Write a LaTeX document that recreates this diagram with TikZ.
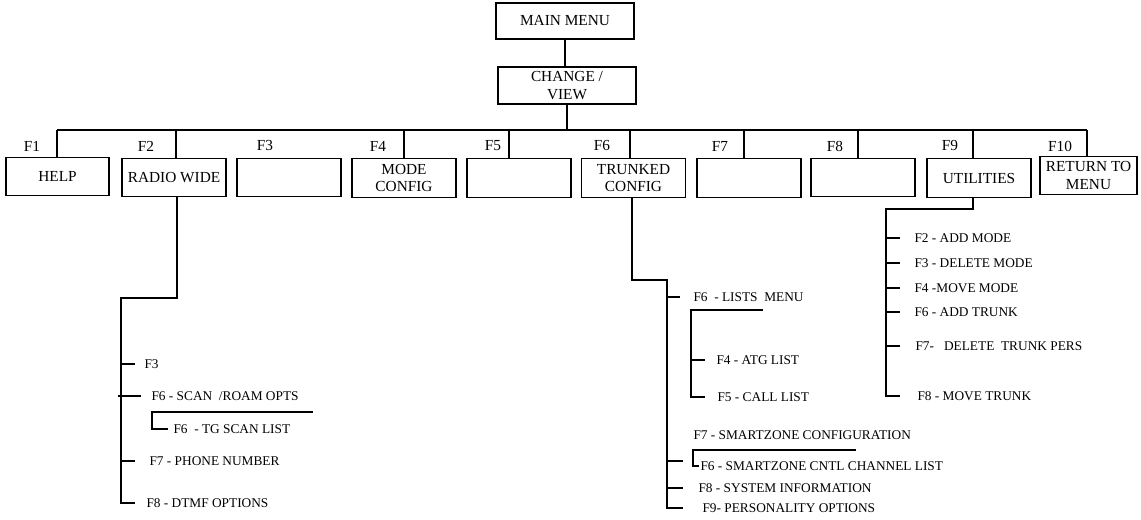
\documentclass[tikz,border=0pt]{standalone}
\usepackage{fontspec}
\setmainfont{Liberation Serif}
\begin{document}
\begin{tikzpicture}[
  x=0.75pt, y=-0.75pt,
  line width=0.8pt,
  box/.style={draw, minimum width=78pt, minimum height=29pt, inner sep=1pt, align=center, font=\fontsize{11.5}{13}\selectfont},
  fkey/.style={inner sep=0pt, font=\fontsize{11.5}{13}\selectfont},
  item/.style={anchor=west, inner sep=0pt, text height=7pt, text depth=0pt, font=\fontsize{10}{12}\selectfont}
]
\useasboundingbox (0,0) rectangle (1141,520);

% Top of the menu
\node[box, minimum width=103.5pt, minimum height=27pt] (mainmenu) at (565,21) {MAIN MENU};
\node[box, minimum width=103.5pt, minimum height=27.75pt] (change) at (567,85.5) {CHANGE /\\VIEW};
\draw (mainmenu.south) -- (mainmenu.south |- change.north);

% Function key bus
\coordinate (bf1) at (57,130);
\coordinate (bf2) at (176,130);
\coordinate (bf4) at (404,130);
\coordinate (bf5) at (509,130);
\coordinate (bf6) at (630,130);
\coordinate (bf7) at (744,130);
\coordinate (bf8) at (858,130);
\coordinate (bf9) at (973,130);
\coordinate (bf10) at (1087,130);
\draw (change.south) -- (change.south |- bf1);
\draw (bf1) -- (bf10);

% Key labels
\node[fkey] (f1) at (32,146) {F1};
\node[fkey] (f2) at (146,146) {F2};
\node[fkey] (f3) at (265,146) {F3};
\node[fkey] (f4) at (378,146) {F4};
\node[fkey] (f5) at (493,146) {F5};
\node[fkey] (f6) at (602,146) {F6};
\node[fkey] (f7) at (720,146) {F7};
\node[fkey] (f8) at (835,146) {F8};
\node[fkey] (f9) at (950,146) {F9};
\node[fkey] (f10) at (1060,146) {F10};

% Second level boxes
\node[box, minimum width=77.25pt] (help) at (57.5,176.5) {HELP};
\node[box] (radio) at (174,177.5) {RADIO WIDE};
\node[box] (blank3) at (289,177.5) {};
\node[box] (mode) at (404,178) {MODE\\CONFIG};
\node[box] (blank5) at (519,178) {};
\node[box] (trunked) at (633.5,178) {TRUNKED\\CONFIG};
\node[box] (blank7) at (749,178) {};
\node[box] (blank8) at (863,177.5) {};
\node[box] (utilities) at (979,178) {UTILITIES};
\node[box, minimum width=72.75pt] (return) at (1088.5,175.5) {RETURN TO\\MENU};

\draw (bf1) -- (bf1 |- help.north);
\draw (bf2) -- (bf2 |- radio.north);
\draw (bf4) -- (bf4 |- mode.north);
\draw (bf5) -- (bf5 |- blank5.north);
\draw (bf6) -- (bf6 |- trunked.north);
\draw (bf7) -- (bf7 |- blank7.north);
\draw (bf8) -- (bf8 |- blank8.north);
\draw (bf9) -- (bf9 |- utilities.north);
\draw (bf10) -- (bf10 |- return.north);

% Radio wide menu
\coordinate (rwspine) at (121,298);
\node[item] (rw3) at (144,364) {F3};
\node[item] (rw6) at (151,396) {F6 - SCAN ~/ROAM OPTS};
\node[item] (rwtg) at (173,429) {F6 ~- TG SCAN LIST};
\node[item] (rw7) at (149,461) {F7 - PHONE NUMBER};
\node[item] (rw8) at (146,503) {F8 - DTMF OPTIONS};
\coordinate (tgtop) at (313,412);

\draw ([xshift=2.25pt]radio.south) |- (rwspine) |- ([xshift=-8.25pt]rw8.west);
\draw (rwspine |- rw3.west) -- ([xshift=-6.75pt]rw3.west);
\draw ([xshift=-2.25pt]rwspine |- rw6.west) -- ([xshift=-7.5pt]rw6.west);
\draw (rwspine |- rw7.west) -- ([xshift=-10.5pt]rw7.west);
\draw (tgtop) -| ([xshift=-15.75pt]rwtg.west) -- ([xshift=-3.75pt]rwtg.west);

% Trunked config menu
\coordinate (tspine) at (667,280);
\node[item] (tl6) at (693,297) {F6 ~- LISTS ~MENU};
\node[item] (tl4) at (716,360) {F4 - ATG LIST};
\node[item] (tl5) at (717,397) {F5 - CALL LIST};
\node[item] (tl7) at (693,435) {F7 - SMARTZONE CONFIGURATION};
\node[item] (tsz) at (700,466) {F6 - SMARTZONE CNTL CHANNEL LIST};
\node[item] (ts8) at (698,488) {F8 - SYSTEM INFORMATION};
\node[item] (ts9) at (702,508) {F9- PERSONALITY OPTIONS};
\coordinate (listtop) at (763,310);
\coordinate (listspine) at (691,310);
\coordinate (sztop) at (856,450);
\coordinate (szstub) at (683,461);

\draw ([xshift=-1.125pt]trunked.south) |- (tspine) |- ([xshift=-14.25pt]ts9.west);
\draw (tspine |- tl6.west) -- ([xshift=-9.75pt]tl6.west);
\draw (listtop) -- (listspine) |- ([xshift=-9pt]tl5.west);
\draw (listspine |- tl4.west) -- ([xshift=-8.25pt]tl4.west);
\draw (sztop) -| ([xshift=-5.25pt]tsz.west) -- ([xshift=-0.75pt]tsz.west);
\draw (tspine |- szstub) -- (szstub);
\draw (tspine |- ts8.west) -- ([xshift=-11.25pt]ts8.west);

% Utilities menu
\coordinate (uspine) at (886,209);
\node[item] (u2) at (914,238) {F2 - ADD MODE};
\node[item] (u3) at (914,263) {F3 - DELETE MODE};
\node[item] (u4) at (914,288) {F4 -MOVE MODE};
\node[item] (u6) at (914,312) {F6 - ADD TRUNK};
\node[item] (u7) at (915,346) {F7- ~~DELETE ~TRUNK PERS};
\node[item] (u8) at (917,396) {F8 - MOVE TRUNK};

\draw ([xshift=-4.5pt]utilities.south) |- (uspine) |- ([xshift=-12.75pt]u8.west);
\draw (uspine |- u2.west) -- ([xshift=-10.5pt]u2.west);
\draw (uspine |- u3.west) -- ([xshift=-10.5pt]u3.west);
\draw (uspine |- u4.west) -- ([xshift=-10.5pt]u4.west);
\draw (uspine |- u6.west) -- ([xshift=-10.5pt]u6.west);
\draw (uspine |- u7.west) -- ([xshift=-11.25pt]u7.west);

\end{tikzpicture}
\end{document}
